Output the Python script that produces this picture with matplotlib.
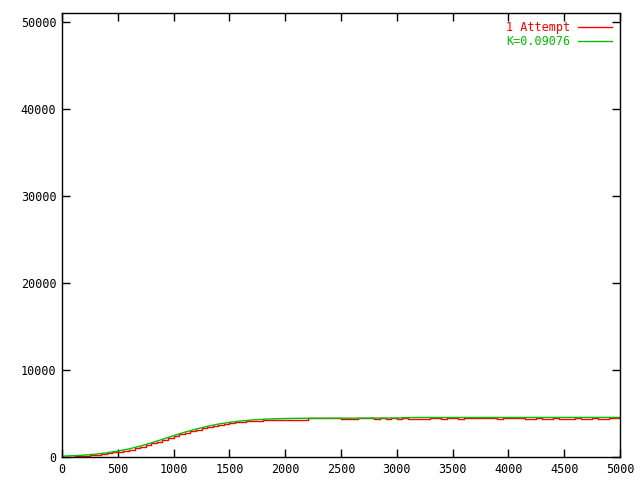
import matplotlib.pyplot as plt

# fitted curve (green)
fit_x = [0, 100, 200, 300, 400, 500, 600, 700, 800, 900, 1000, 1100, 1200, 1300,
         1400, 1500, 1600, 1700, 1800, 1900, 2000, 2200, 2500, 3000, 3100, 3200, 5000]
fit_y = [100, 150, 220, 320, 480, 680, 930, 1250, 1620, 2030, 2450, 2850, 3200, 3520,
         3780, 3980, 4130, 4250, 4330, 4390, 4420, 4450, 4460, 4480, 4530, 4540, 4550]

# measured attempt (red), step data
run_x = [0, 120, 200, 250, 300, 350, 400, 450, 500, 550, 600, 650, 700, 750, 800,
         850, 900, 950, 1000, 1050, 1100, 1150, 1200, 1250, 1300, 1350, 1400, 1450,
         1500, 1550, 1600, 1650, 1700, 1750, 1800, 1900, 2000, 2050, 2100, 2200,
         2300, 2350, 2500, 2650, 2800, 2850, 2900, 2950, 3000, 3050, 3100, 3300,
         3400, 3450, 3550, 3600, 3700, 3850, 3900, 3950, 4150, 4250, 4300, 4400,
         4450, 4600, 4650, 4750, 4800, 4900, 5000]
run_y = [50, 90, 150, 220, 280, 340, 420, 520, 620, 740, 860, 1020, 1180, 1370, 1560,
         1760, 1960, 2180, 2390, 2590, 2790, 2970, 3130, 3300, 3450, 3590, 3710, 3830,
         3910, 4000, 4060, 4100, 4150, 4100, 4200, 4250, 4280, 4200, 4300, 4430,
         4500, 4440, 4360, 4440, 4400, 4450, 4400, 4450, 4410, 4450, 4380, 4460,
         4400, 4460, 4400, 4460, 4470, 4520, 4400, 4460, 4400, 4470, 4400, 4460,
         4400, 4460, 4400, 4460, 4400, 4450, 4450]

plt.rcParams['font.family'] = 'DejaVu Sans Mono'
fig = plt.figure(figsize=(6.4, 4.8), dpi=100)
ax = fig.add_axes([62 / 640, 23 / 480, 558 / 640, 444 / 480])

ax.plot(run_x, run_y, color='#ff0000', lw=1.0, drawstyle='steps-post', label='1 Attempt')
ax.plot(fit_x, fit_y, color='#00c000', lw=1.0, label='K=0.09076')

ax.set_xlim(0, 5000)
ax.set_ylim(0, 51000)
ax.set_xticks(range(0, 5001, 500))
ax.set_yticks(range(0, 50001, 10000))
ax.tick_params(direction='in', length=6, width=1, top=True, right=True,
               labelsize=8.5, pad=4)
for s in ax.spines.values():
    s.set_linewidth(1)

leg = ax.legend(loc='upper right', frameon=False, markerfirst=False,
                labelcolor='linecolor', fontsize=8.5, handlelength=2.9,
                handletextpad=0.6, labelspacing=0.05, borderaxespad=0.3)

fig.savefig('out.png', dpi=100)
